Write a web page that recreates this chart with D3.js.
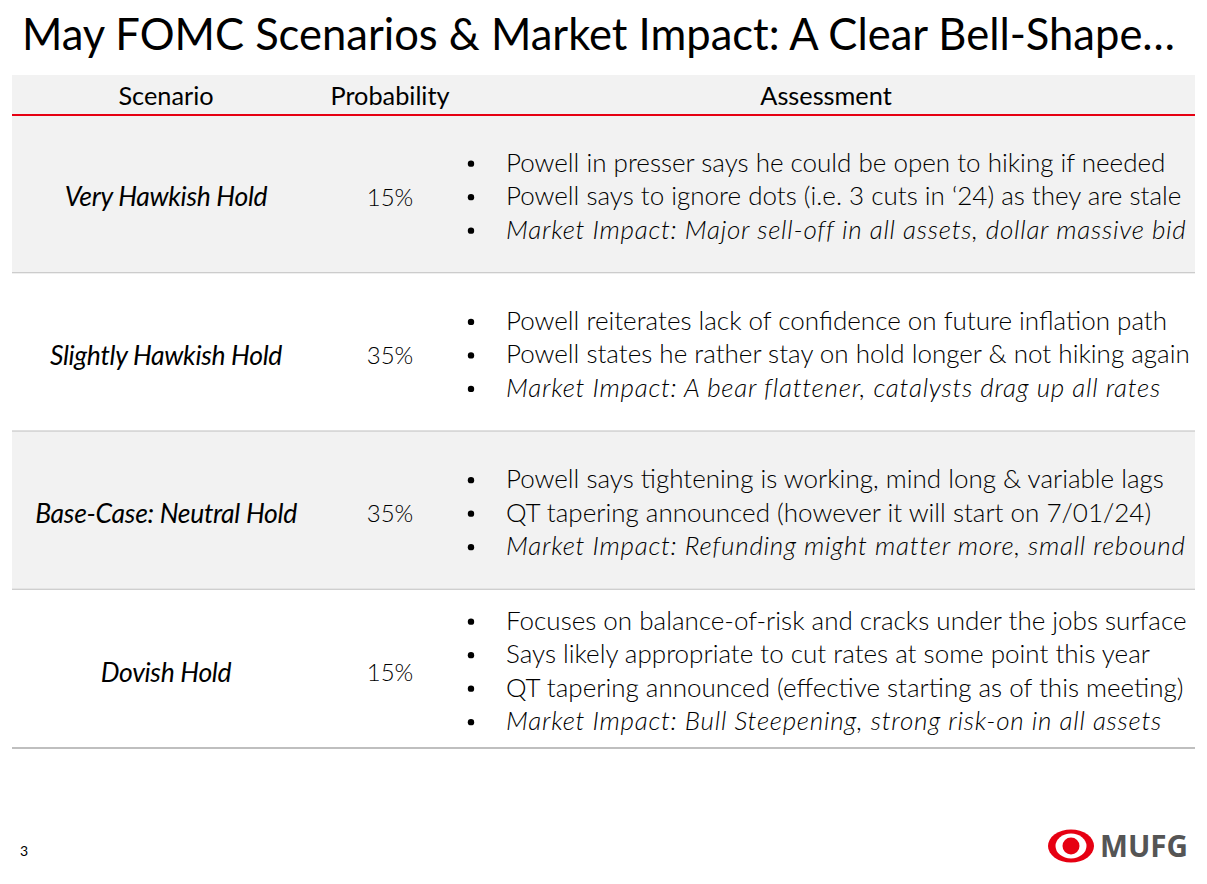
<!DOCTYPE html>
<html><head><meta charset="utf-8">
<script src="https://cdn.jsdelivr.net/npm/d3@7"></script>
<style>body{margin:0;background:#fff;} svg{display:block;}</style>
</head><body>
<script>
const titleText = "May FOMC Scenarios & Market Impact: A Clear Bell-Shape…";
const columnHeaders = ["Scenario", "Probability", "Assessment"];
const scenarios = ["Very Hawkish Hold", "Slightly Hawkish Hold", "Base-Case: Neutral Hold", "Dovish Hold"];
const probabilities = [15, 35, 35, 15];
const assessments = [
  ["Powell in presser says he could be open to hiking if needed",
   "Powell says to ignore dots (i.e. 3 cuts in ‘24) as they are stale",
   "Market Impact: Major sell-off in all assets, dollar massive bid"],
  ["Powell reiterates lack of confidence on future inflation path",
   "Powell states he rather stay on hold longer & not hiking again",
   "Market Impact: A bear flattener, catalysts drag up all rates"],
  ["Powell says tightening is working, mind long & variable lags",
   "QT tapering announced (however it will start on 7/01/24)",
   "Market Impact: Refunding might matter more, small rebound"],
  ["Focuses on balance-of-risk and cracks under the jobs surface",
   "Says likely appropriate to cut rates at some point this year",
   "QT tapering announced (effective starting as of this meeting)",
   "Market Impact: Bull Steepening, strong risk-on in all assets"]
];
const pageNumber = "3";

const W = 1207, H = 884;
const FONT = "Lato, 'Open Sans', sans-serif";
const svg = d3.select("body").append("svg").attr("width", W).attr("height", H);
svg.append("rect").attr("width", W).attr("height", H).attr("fill", "#fff");

// title
svg.append("text").attr("x", 22).attr("y", 50)
  .attr("font-family", FONT).attr("font-size", 44).attr("fill", "#000")
  .attr("textLength", 1153).attr("lengthAdjust", "spacingAndGlyphs")
  .text(titleText);

const x0 = 12, x1 = 1195;
const colX = {scenario: 166, prob: 390, assess: 826};
// header
svg.append("rect").attr("x", x0).attr("y", 75).attr("width", x1 - x0).attr("height", 40).attr("fill", "#f2f2f2");
svg.selectAll("text.hdr").data(columnHeaders).join("text").attr("class", "hdr")
  .attr("x", (d, i) => [colX.scenario, colX.prob, colX.assess][i])
  .attr("y", 105).attr("text-anchor", "middle")
  .attr("font-family", FONT).attr("font-size", 25.3).attr("fill", "#000").text(d => d);

const y = d3.scaleBand().domain(scenarios).range([115, 748]).padding(0);

const rows = svg.selectAll("g.row").data(scenarios).join("g").attr("class", "row")
  .attr("transform", d => `translate(0,${y(d)})`);
rows.append("rect").attr("x", x0).attr("width", x1 - x0).attr("height", y.bandwidth())
  .attr("fill", (d, i) => i % 2 === 0 ? "#f2f2f2" : "#ffffff");
rows.append("line").attr("x1", x0).attr("x2", x1).attr("y1", y.bandwidth()).attr("y2", y.bandwidth())
  .attr("stroke", "#bfbfbf").attr("stroke-width", 2);

const lineH = 33.5;
rows.each(function(d, i) {
  const g = d3.select(this);
  const bw = y.bandwidth();
  const lines = assessments[i];
  const n = lines.length;
  const cy = bw / 2 + 2;
  const labelY = n === 4 ? cy + 2 : cy + 1;
  g.append("text").attr("x", colX.scenario).attr("y", labelY).attr("dy", "0.35em")
    .attr("text-anchor", "middle").attr("font-family", FONT).attr("font-style", "italic")
    .attr("font-size", 26.5).attr("fill", "#000").attr("letter-spacing", -0.3).text(d);
  g.append("text").attr("x", colX.prob).attr("y", labelY).attr("dy", "0.35em")
    .attr("text-anchor", "middle").attr("font-family", FONT).attr("font-weight", 300)
    .attr("font-size", 24).attr("fill", "#000").text(probabilities[i] + "%");
  const startY = cy - (n - 1) * lineH / 2;
  lines.forEach((t, j) => {
    const ly = startY + j * lineH;
    const italic = t.startsWith("Market Impact");
    g.append("circle").attr("cx", 471).attr("cy", ly + 1).attr("r", 3.2).attr("fill", "#000");
    g.append("text").attr("x", 506).attr("y", ly).attr("dy", "0.35em")
      .attr("font-family", FONT).attr("font-weight", 300)
      .attr("font-style", italic ? "italic" : "normal")
      .attr("letter-spacing", italic ? 0.75 : 0)
      .attr("font-size", 26).attr("fill", "#000").text(t);
  });
});

// red header line
svg.append("line").attr("x1", x0).attr("x2", x1).attr("y1", 115).attr("y2", 115)
  .attr("stroke", "#e60012").attr("stroke-width", 2);

// page number
svg.append("text").attr("x", 20).attr("y", 856).attr("font-family", FONT)
  .attr("font-size", 14).attr("fill", "#000").text(pageNumber);

// logo
const logo = svg.append("g").attr("transform", "translate(1071,846)");
logo.append("ellipse").attr("rx", 23).attr("ry", 16.5).attr("fill", "#e60012");
logo.append("ellipse").attr("rx", 15.5).attr("ry", 12.5).attr("fill", "#fff");
logo.append("circle").attr("r", 8.5).attr("fill", "#e60012");
svg.append("text").attr("x", 1100).attr("y", 857).attr("font-family", "'Open Sans', sans-serif")
  .attr("font-weight", 700).attr("font-size", 30).attr("fill", "#555")
  .attr("textLength", 88).attr("lengthAdjust", "spacingAndGlyphs").text("MUFG");
</script>
</body></html>
